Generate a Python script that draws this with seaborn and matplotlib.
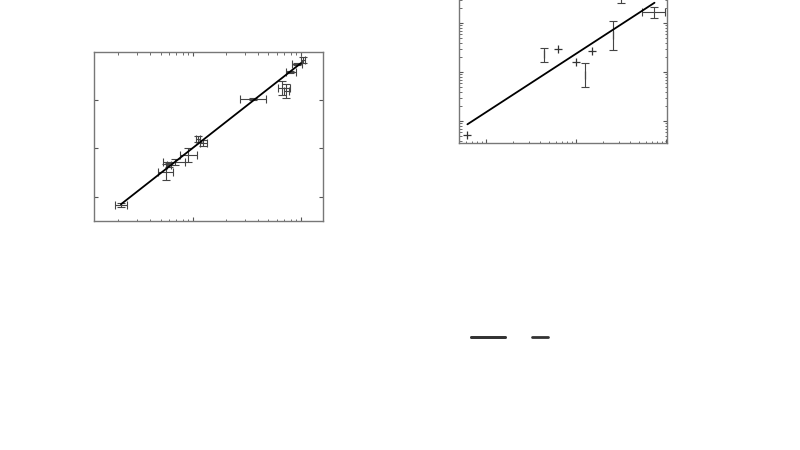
import numpy as np
import matplotlib
matplotlib.use("Agg")
import matplotlib.pyplot as plt
from matplotlib.lines import Line2D
from matplotlib.ticker import LogLocator, NullFormatter
import seaborn as sns

# Left panel data (log x, linear y)
left_x = [0.215, 0.562, 0.60, 0.681, 0.899, 1.112, 1.238, 3.59, 6.67, 7.26, 7.91, 9.18, 10.4]
left_x_lo = [0.190, 0.474, 0.58, 0.527, 0.758, 1.07, 1.16, 2.72, 6.12, 6.90, 7.26, 8.26, 10.0]
left_x_hi = [0.245, 0.653, 0.62, 0.843, 1.089, 1.15, 1.35, 4.74, 7.91, 7.70, 8.99, 10.2, 10.9]
left_y = [-0.165, 0.515, 0.66, 0.72, 0.866, 1.196, 1.113, 2.02, 2.247, 2.186, 2.577, 2.742, 2.825]
left_yerr = [0.04, 0.155, 0.04, 0.07, 0.145, 0.06, 0.06, 0.02, 0.145, 0.145, 0.03, 0.03, 0.06]
left_fit_x = [0.215, 10.0]
left_fit_y = [-0.15, 2.76]

# Right panel data (log-log)
right_x = [0.61, 4.44, 6.26, 10.0, 12.6, 14.9, 25.9, 31.4, 73.6]
right_x_lo = [0.61, 4.44, 6.26, 10.0, 12.6, 14.9, 25.9, 31.4, 53.7]
right_x_hi = [0.61, 4.44, 6.26, 10.0, 12.6, 14.9, 25.9, 31.4, 97.5]
right_y = [0.518, 22.96, 29.5, 16.0, 8.7, 26.8, 56.9, 372.0, 170.0]
right_y_lo = [0.518, 16.2, 29.5, 16.0, 5.01, 26.8, 28.1, 256.0, 125.0]
right_y_hi = [0.518, 31.3, 29.5, 16.0, 15.0, 26.8, 111.0, 543.0, 215.0]
right_has_err = [False, True, False, False, True, False, True, True, True]
right_fit_x = [0.62, 74.1]
right_fit_y = [0.857, 259.0]

sns.set_theme(style="white")
fig = plt.figure(figsize=(8, 4.5), dpi=100)
ax1 = fig.add_axes([0.1175, 0.5089, 0.28625, 0.3756])
ax2 = fig.add_axes([0.57375, 0.6822, 0.26, 0.3756])

err_kw = dict(fmt="none", ecolor="#444444", elinewidth=0.8, capsize=3, capthick=0.8)

# left panel
lx = np.array(left_x)
xerr1 = [lx - np.array(left_x_lo), np.array(left_x_hi) - lx]
ax1.errorbar(left_x, left_y, xerr=xerr1, yerr=left_yerr, **err_kw)
sns.lineplot(x=left_fit_x, y=left_fit_y, ax=ax1, color="black", linewidth=1.3)
ax1.set_xscale("log")
ax1.set_xlim(0.121, 16.0)
ax1.set_ylim(-0.495, 2.99)
ax1.set_yticks([0, 1, 2])

# right panel
rx = np.array(right_x)
ry = np.array(right_y)
err_idx = [i for i, e in enumerate(right_has_err) if e]
pt_idx = [i for i, e in enumerate(right_has_err) if not e]
xerr2 = [rx[err_idx] - np.array(right_x_lo)[err_idx], np.array(right_x_hi)[err_idx] - rx[err_idx]]
yerr2 = [ry[err_idx] - np.array(right_y_lo)[err_idx], np.array(right_y_hi)[err_idx] - ry[err_idx]]
ax2.errorbar(rx[err_idx], ry[err_idx], xerr=xerr2, yerr=yerr2, **err_kw)
sns.scatterplot(x=rx[pt_idx], y=ry[pt_idx], ax=ax2, marker="+", color="#333333", s=40, linewidth=0.9)
sns.lineplot(x=right_fit_x, y=right_fit_y, ax=ax2, color="black", linewidth=1.3)
ax2.set_xscale("log")
ax2.set_yscale("log")
ax2.set_xlim(0.5, 102)
ax2.set_ylim(0.356, 1000)

for ax in (ax1, ax2):
    for s in ax.spines.values():
        s.set_color("#777777")
        s.set_linewidth(1.0)
    ax.tick_params(which="both", direction="in", top=True, right=True, bottom=True, left=True,
                   labelbottom=False, labelleft=False, color="#555555")
    ax.tick_params(which="major", length=3, width=0.8)
    ax.tick_params(which="minor", length=1.8, width=0.6)
    ax.set_xlabel("")
    ax.set_ylabel("")
ax1.xaxis.set_minor_formatter(NullFormatter())
ax2.xaxis.set_minor_formatter(NullFormatter())
ax2.yaxis.set_minor_formatter(NullFormatter())
ax2.xaxis.set_minor_locator(LogLocator(base=10, subs=np.arange(2, 10)))
ax2.yaxis.set_minor_locator(LogLocator(base=10, subs=np.arange(2, 10)))

# legend stubs without labels
h = [Line2D([], [], color="#333333", linewidth=2)]
leg1 = fig.legend(handles=h, labels=[""], loc="center left", bbox_to_anchor=(471 / 800, 112 / 450),
                  frameon=False, handlelength=2.2, borderpad=0, borderaxespad=0, handletextpad=0)
fig.add_artist(leg1)
fig.legend(handles=h, labels=[""], loc="center left", bbox_to_anchor=(532 / 800, 112 / 450),
           frameon=False, handlelength=1.05, borderpad=0, borderaxespad=0, handletextpad=0)

fig.savefig("out.png", dpi=100)
